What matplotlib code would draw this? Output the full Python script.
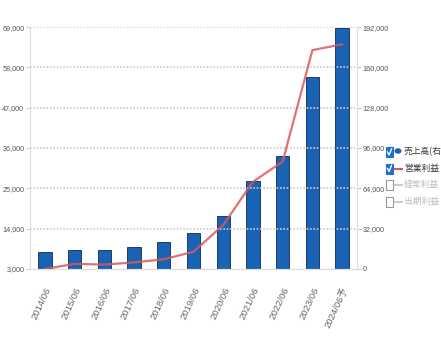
import matplotlib.pyplot as plt
from matplotlib.patches import Rectangle, Circle
from matplotlib.lines import Line2D

plt.rcParams['font.family'] = ['Liberation Sans', 'Noto Sans CJK JP', 'DejaVu Sans']

periods = ['2014/06', '2015/06', '2016/06', '2017/06', '2018/06', '2019/06',
           '2020/06', '2021/06', '2022/06', '2023/06', '2024/06予']
sales = [13700, 15100, 15100, 17700, 21700, 28800, 42000, 69800, 89900, 152600, 191000]
op_profit = [3000, 4400, 4200, 4800, 5650, 7700, 15000, 26800, 32300, 62700, 64300]
left_ticks = [3000, 14000, 25000, 36000, 47000, 58000, 69000]
right_ticks = [0, 32000, 64000, 96000, 128000, 160000, 192000]

fig = plt.figure(figsize=(4.41, 3.47), dpi=100)
ax = fig.add_axes([0.068, 0.2248, 0.7415, 0.6972])
ax2 = ax.twinx()
x = list(range(len(periods)))

# bars (sales) on the right axis, profit line on the left
ax2.bar(x, sales, width=0.45, color='#1a62b4', edgecolor='#0d2a55', linewidth=0.6, zorder=2)
ax.plot(x, op_profit, color='#d65a5a', lw=1.6, alpha=0.85, zorder=5)
ax.set_zorder(ax2.get_zorder() + 1)
ax.patch.set_visible(False)

ax.set_xlim(-0.5, len(periods) - 0.5)
ax.set_ylim(3000, 69000)
ax2.set_ylim(0, 192000)
ax.set_yticks(left_ticks)
ax.set_yticklabels([f'{v:,}' for v in left_ticks])
ax2.set_yticks(right_ticks)
ax2.set_yticklabels([f'{v:,}' for v in right_ticks])
for t in left_ticks[1:]:
    ax.axhline(t, color='#cccccc', lw=1.2, ls=(0, (1, 1)), zorder=0)

ax.set_xticks(x)
ax.set_xticklabels(periods, rotation=65, ha='right', va='top', rotation_mode='anchor')
ax.tick_params(axis='x', length=0, pad=12, labelsize=6.8, labelcolor='#666666')
ax.tick_params(axis='y', length=3, color='#cccccc', labelsize=5.2, labelcolor='#555555', pad=1)
ax2.tick_params(axis='y', length=3, color='#cccccc', labelsize=5.2, labelcolor='#555555', pad=1)
ax2.tick_params(axis='x', length=0)
for a in (ax, ax2):
    for s in a.spines.values():
        s.set_color('#dddddd')
    a.spines['top'].set_visible(False)

# legend with checkboxes at the right edge
rows = [('売上高(右軸)', 'bar', True), ('営業利益', 'line', True),
        ('経常利益', 'line', False), ('当期利益', 'line', False)]
for i, (name, kind, on) in enumerate(rows):
    y = 347 - 152 - i * 16.5
    fy = y / 347
    box_col = '#1f6fd1' if on else 'white'
    fig.add_artist(Rectangle((386 / 441, fy - 5 / 347), 7 / 441, 10 / 347, transform=fig.transFigure,
                             facecolor=box_col, edgecolor='#1f6fd1' if on else '#999999', lw=0.8))
    if on:
        fig.add_artist(Line2D([387.5 / 441, 389 / 441, 391.5 / 441],
                              [fy, fy - 3 / 347, fy + 3 / 347],
                              transform=fig.transFigure, color='white', lw=1))
    if kind == 'bar':
        fig.add_artist(Circle((398 / 441, fy + 1 / 347), 3.5 / 441, transform=fig.transFigure,
                              facecolor='#1a62b4', edgecolor='none'))
    else:
        fig.add_artist(Line2D([395 / 441, 402 / 441], [fy, fy], transform=fig.transFigure,
                              color='#d65a5a' if on else '#cccccc', lw=1.5))
    fig.text(404 / 441, fy, name, fontsize=6.3, va='center', ha='left',
             color='#333333' if on else '#bbbbbb', family=['Noto Sans CJK JP', 'DejaVu Sans'])

fig.savefig('out.png', dpi=100)
